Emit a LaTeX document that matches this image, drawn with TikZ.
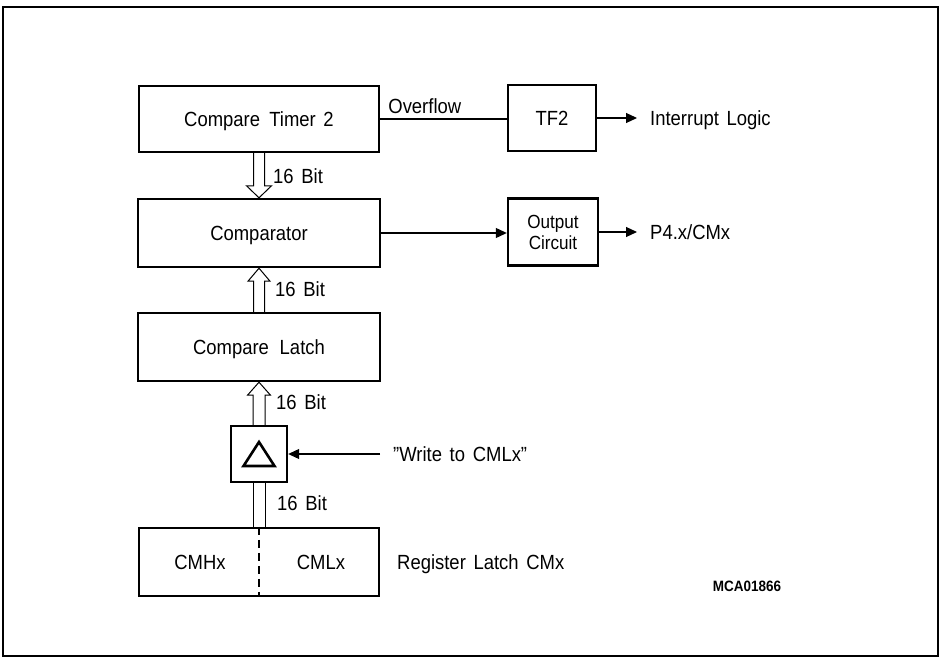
\documentclass[tikz,border=0pt]{standalone}
\usepackage{fontspec}
\setmainfont{Liberation Sans}[WordSpace=1.5,FakeStretch=0.9]
\usetikzlibrary{arrows.meta,calc}
\begin{document}
\begin{tikzpicture}[x=1pt,y=-1pt,
  txt/.style={font=\fontsize{20.5}{24}\selectfont,text height=14.5pt,text depth=0pt},
  box/.style={draw,line width=2.4pt,inner sep=0pt,txt},
  lbl/.style={inner sep=0pt,anchor=west,txt},
  thinline/.style={line width=1.1pt},
  arr/.style={thinline,-{Triangle[length=11pt,width=10pt]}},
  bus/.style={line width=1pt,line join=miter}]
\useasboundingbox (0,0) rectangle (944,660);
\draw[line width=1.2pt] (3,7) rectangle (938,656);

% central column
\node[box,minimum width=240,minimum height=66] (ct2) at (259,119) {Compare\hspace{0.45em}Timer 2};
\node[box,minimum width=242,minimum height=68] (cmp) at (259,233) {Comparator};
\node[box,minimum width=242,minimum height=68] (cl) at (259,347) {Compare\hspace{0.15em} Latch};
\node[box,minimum width=56,minimum height=56] (tri) at (259,454) {};
\node[box,minimum width=240,minimum height=68] (reg) at (259,562) {};

% right column
\node[box,minimum width=88,minimum height=66] (tf2) at (552,118) {TF2};
\node[box,minimum width=90,minimum height=67,align=center,font=\fontsize{19}{21}\selectfont,text height=,text depth=] (oc) at (553,232) {Output\\Circuit};

% triangle symbol
\draw[line width=2.6pt,line join=miter] ($(tri.center)+(0,-12)$) -- ($(tri.center)+(15.5,12)$) -- ($(tri.center)+(-15.5,12)$) -- cycle;

% register contents
\draw[thinline,dash pattern=on 8pt off 5pt] (reg.north) -- (reg.south);
\node[txt,inner sep=0pt] (cmhx) at (200,562) {CMHx};
\node[txt,inner sep=0pt] (cmlx) at (321,562) {CMLx};

% buses
\draw[bus] ($(ct2.south)+(-5.5,0)$) -- ($(cmp.north)+(-5.5,-12)$) -- ++(-7,0) -- (cmp.north)
  -- ($(cmp.north)+(12.5,-12)$) -- ++(-7,0) -- ($(ct2.south)+(5.5,0)$);
\draw[bus] ($(cl.north)+(-5.5,0)$) -- ($(cmp.south)+(-5.5,13)$) -- ++(-5.5,0) -- (cmp.south)
  -- ($(cmp.south)+(11,13)$) -- ++(-5.5,0) -- ($(cl.north)+(5.5,0)$);
\draw[bus] ($(tri.north)+(-6,0)$) -- ($(cl.south)+(-6,13)$) -- ++(-5.5,0) -- (cl.south)
  -- ($(cl.south)+(11.5,13)$) -- ++(-5.5,0) -- ($(tri.north)+(6,0)$);
\draw[bus] ($(reg.north)+(-6,0)$) -- ($(tri.south)+(-6,0)$);
\draw[bus] ($(reg.north)+(6,0)$) -- ($(tri.south)+(6,0)$);

\node[lbl] (b1) at (273,176) {16 Bit};
\node[lbl] (b2) at (275,289) {16 Bit};
\node[lbl] (b3) at (276,402) {16 Bit};
\node[lbl] (b4) at (277,503) {16 Bit};

% signals
\draw[thinline] (ct2.east) -- (ct2.east -| tf2.west);
\node[lbl,anchor=south west] (ovf) at ($(ct2.east)+(8,-5)$) {Overflow};

\node[lbl] (il) at (650,118) {Interrupt Logic};
\draw[arr] (tf2.east) -- ($(il.west)+(-13,0)$);

\draw[arr] (cmp.east) -- (cmp.east -| oc.west);
\node[lbl] (p4) at (650,232) {P4.x/CMx};
\draw[arr] (oc.east) -- ($(p4.west)+(-13,0)$);

\node[lbl] (wr) at (393,454) {”Write to CMLx”};
\draw[arr] ($(wr.west)+(-13,0)$) -- (tri.east);

\node[lbl] (rl) at (397,562) {Register Latch CMx};

\node[inner sep=0pt,font=\fontsize{15}{18}\selectfont\bfseries] (id) at (747,586) {MCA01866};
\end{tikzpicture}
\end{document}
